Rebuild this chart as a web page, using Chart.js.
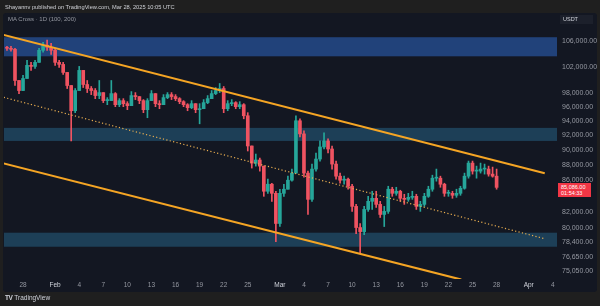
<!DOCTYPE html>
<html>
<head>
<meta charset="utf-8">
<script src="https://cdn.jsdelivr.net/npm/chart.js@4"></script>
<style>
  html, body { margin: 0; padding: 0; }
  body { width: 600px; height: 306px; background: #1f1f1f; position: relative; overflow: hidden; font-family: "Liberation Sans", Arial, sans-serif; }
  #panel { position: absolute; left: 3px; top: 13px; width: 594px; height: 279px; background: #131722; border-radius: 3px; }
  #chart { position: absolute; left: 0; top: 0; }
  .hdr { position: absolute; left: 5px; top: 3px; font-size: 5.7px; line-height: 8px; color: #cfd1d6; }
  .legend { position: absolute; left: 8px; top: 15px; font-size: 6px; line-height: 8px; color: #9598a1; }
  .unit { position: absolute; left: 560px; top: 15px; width: 33px; height: 9px; background: #1c202b; color: #d1d4dc; font-size: 5.5px; line-height: 9px; padding-left: 3px; box-sizing: border-box; }
  .badge { position: absolute; left: 558px; top: 183px; width: 33px; height: 14px; background: #f23645; color: #fff; font-size: 5.5px; line-height: 6.5px; padding: 0.5px 0 0 3px; box-sizing: border-box; }
  .footer { position: absolute; left: 5px; top: 294px; font-size: 6.5px; line-height: 8px; color: #d1d4dc; }
  .footer b { margin-right: 2px; letter-spacing: -0.5px; }
</style>
</head>
<body>
<div id="panel"></div>
<canvas id="chart" width="600" height="306"></canvas>
<div class="hdr">Shayannv published on TradingView.com, Mar 28, 2025 10:05 UTC</div>
<div class="legend">MA Cross · 1D (100, 200)</div>
<div class="unit">USDT</div>
<div class="badge">85,086.00<br>01:54:33</div>
<div class="footer"><b>TV</b>TradingView</div>
<script>
// x is days since Jan 28, prices in thousands of USDT
const tickDays = [0, 4, 7, 10, 13, 16, 19, 22, 25, 28, 32, 35, 38, 41, 44, 47, 50, 53, 56, 59, 63, 66];
const tickLabels = ["28", "Feb", "4", "7", "10", "13", "16", "19", "22", "25", "Mar", "4", "7", "10", "13", "16", "19", "22", "25", "28", "Apr", "4"];
const monthLabels = ["Feb", "Mar", "Apr"];
const priceTicks = [106000, 102000, 98000, 96000, 94000, 92000, 90000, 88000, 86000, 82000, 80000, 78400, 76650, 75050];

// 12h candles starting Jan 26
const firstDay = -2;
const firstOpen = 105.04;
const closes = [
  104.88, 104.72, 99.92, 98.42, 100.22, 102.22, 102.06, 102.68, 104.56, 105.36,
  105.04, 104.56, 102.68, 102.37, 101.14, 99.17, 95.48, 98.42, 101.45, 99.32,
  98.72, 98.42, 97.68, 98.12, 96.94, 96.94, 97.97, 96.35, 96.94, 96.50,
  96.21, 97.68, 97.53, 96.94, 95.63, 96.94, 97.97, 96.50, 96.35, 97.38,
  97.82, 97.53, 97.23, 96.79, 96.35, 95.92, 96.50, 95.63, 95.77, 96.65,
  97.23, 97.97, 98.42, 98.72, 95.77, 96.50, 96.65, 96.06, 96.35, 94.76,
  90.55, 88.25, 88.66, 87.85, 84.59, 85.49, 84.33, 80.59, 84.33, 84.85,
  86.01, 86.93, 94.05, 92.21, 86.93, 83.57, 87.46, 88.79, 90.42, 91.24,
  90.14, 88.12, 86.53, 86.01, 86.14, 85.23, 82.69, 80.10, 79.61, 82.31,
  83.32, 83.70, 82.94, 81.69, 82.07, 84.85, 84.33, 84.59, 83.70, 83.57,
  83.82, 83.95, 82.69, 82.94, 83.95, 84.85, 86.27, 86.27, 85.49, 84.33,
  84.33, 84.08, 84.33, 84.97, 86.53, 88.25, 87.19, 87.19, 87.46, 87.46,
  86.80, 86.53, 85.086
];
const highs = [
  105.20, 105.20, 104.88, 99.92, 100.68, 102.99, 102.68, 102.99, 104.88, 105.84,
  106.16, 105.68, 104.88, 102.99, 102.68, 101.14, 99.17, 98.72, 102.06, 101.45,
  99.92, 99.02, 98.72, 99.92, 98.12, 97.38, 99.92, 98.12, 97.23, 97.23,
  96.79, 98.27, 98.12, 97.53, 97.09, 97.23, 98.42, 97.97, 96.94, 97.82,
  98.12, 98.12, 97.82, 97.38, 96.94, 96.50, 96.94, 96.50, 96.50, 97.09,
  97.68, 98.42, 98.87, 99.47, 99.02, 96.94, 97.09, 96.79, 96.79, 96.50,
  95.20, 90.55, 89.46, 88.92, 87.85, 86.14, 85.62, 84.59, 84.85, 85.49,
  86.53, 87.46, 94.76, 94.33, 92.63, 87.19, 88.12, 89.60, 91.24, 92.35,
  91.52, 90.55, 88.52, 86.93, 86.53, 86.27, 85.49, 82.94, 80.59, 82.69,
  83.95, 84.59, 84.59, 83.32, 82.69, 85.23, 85.10, 85.10, 84.72, 84.21,
  84.33, 84.59, 84.21, 83.32, 84.33, 85.23, 86.66, 87.46, 86.53, 85.62,
  84.72, 84.59, 84.85, 85.23, 86.93, 88.52, 88.52, 87.85, 88.25, 88.12,
  87.85, 87.72, 87.46
];
const lows = [
  104.56, 104.41, 99.17, 97.97, 98.42, 100.22, 101.45, 101.75, 102.68, 104.25,
  104.56, 103.93, 102.22, 101.91, 100.83, 98.72, 91.24, 95.20, 98.42, 98.87,
  98.12, 97.82, 97.23, 97.23, 96.65, 96.35, 96.94, 96.06, 96.06, 96.06,
  95.63, 96.21, 97.09, 96.50, 95.20, 94.48, 96.94, 96.06, 95.77, 96.35,
  97.23, 97.09, 96.94, 96.50, 96.06, 95.48, 95.77, 95.20, 93.62, 95.77,
  96.50, 97.23, 97.82, 98.12, 95.20, 95.48, 96.21, 95.77, 95.77, 94.33,
  89.87, 87.59, 87.85, 87.19, 83.95, 84.33, 83.32, 78.42, 80.22, 83.95,
  84.85, 85.88, 86.93, 91.79, 86.40, 81.69, 83.32, 87.19, 88.52, 90.14,
  89.60, 87.46, 86.14, 85.62, 85.49, 84.85, 82.07, 79.37, 77.00, 79.25,
  82.07, 82.31, 82.56, 81.32, 80.22, 81.82, 83.95, 84.08, 83.32, 82.94,
  83.32, 83.57, 82.31, 82.07, 82.69, 83.82, 84.59, 85.88, 85.10, 83.95,
  83.95, 83.70, 83.82, 84.08, 84.85, 86.27, 86.80, 86.27, 86.93, 86.80,
  86.53, 86.40, 84.85
];

// supply / demand zones [low, high]
const zoneBounds = [[103.62, 106.64], [91.24, 93.05], [77.82, 79.48]];
// channel drawings [day, price]
const upperChannel = [[-2.4, 107.0], [65, 86.92]];
const lowerChannel = [[-2.4, 88.2], [54.6, 74.07]];
const midChannel = [[-2.4, 97.42], [65, 78.76]];

const UP = "#26a69a";
const DOWN = "#ef5361";
const zoneColors = ["#21427a", "#1d3f57", "#1d3f57"];

const wickData = [];
const bodyData = [];
const candleColors = [];
closes.forEach((c, i) => {
  const o = i === 0 ? firstOpen : closes[i - 1];
  const x = firstDay + i * 0.5;
  const hi = Math.max(highs[i], o, c);
  const lo = Math.min(lows[i], o, c);
  wickData.push({ x, y: [lo * 1000, hi * 1000] });
  bodyData.push({ x, y: [o * 1000, c * 1000] });
  candleColors.push(c >= o ? UP : DOWN);
});

const toPoints = (line) => line.map(([d, p]) => ({ x: d, y: p * 1000 }));

const zonePlugin = {
  id: "zones",
  beforeDatasetsDraw(chart) {
    const { ctx, chartArea, scales } = chart;
    ctx.save();
    zoneBounds.forEach((z, i) => {
      const top = scales.y.getPixelForValue(z[1] * 1000);
      const bottom = scales.y.getPixelForValue(z[0] * 1000);
      ctx.fillStyle = zoneColors[i];
      ctx.fillRect(chartArea.left, top, chartArea.right - chartArea.left + 1, bottom - top);
    });
    ctx.restore();
  }
};

const fmtPrice = (v) => Number(v).toLocaleString("en-US", { minimumFractionDigits: 2, maximumFractionDigits: 2 });

new Chart(document.getElementById("chart").getContext("2d"), {
  type: "bar",
  data: {
    datasets: [
      {
        type: "line", data: toPoints(upperChannel), borderColor: "#f5a524", borderWidth: 2,
        pointRadius: 0, order: 0,
      },
      {
        type: "line", data: toPoints(lowerChannel), borderColor: "#f5a524", borderWidth: 2,
        pointRadius: 0, order: 0,
      },
      {
        type: "line", data: toPoints(midChannel), borderColor: "#e8ad50", borderWidth: 1.2,
        borderDash: [1.2, 2.3], pointRadius: 0, order: 0,
      },
      {
        data: bodyData, backgroundColor: candleColors, barThickness: 3,
        grouped: false, minBarLength: 1, order: 1,
      },
      {
        data: wickData, backgroundColor: candleColors, barThickness: 1,
        grouped: false, order: 2,
      },
    ],
  },
  options: {
    responsive: false,
    animation: false,
    devicePixelRatio: 1,
    layout: { padding: { left: 4, top: 14, right: 3, bottom: 14 } },
    plugins: { legend: { display: false }, tooltip: { enabled: false } },
    scales: {
      x: {
        type: "linear",
        min: -2.37,
        max: 66.4,
        offset: false,
        grid: { display: false, drawTicks: false },
        border: { display: false },
        afterBuildTicks: (s) => { s.ticks = tickDays.map((v) => ({ value: v })); },
        afterFit: (s) => { s.height = 13; },
        ticks: {
          autoSkip: false,
          maxRotation: 0,
          padding: 2,
          callback: (v) => tickLabels[tickDays.indexOf(v)],
          color: (c) => monthLabels.includes(tickLabels[c.index]) ? "#d1d4dc" : "#9598a1",
          font: { family: "Liberation Sans", size: 6.5 },
        },
      },
      y: {
        type: "logarithmic",
        position: "right",
        min: 74136,
        max: 110426,
        grid: { display: false, drawTicks: false },
        border: { display: false },
        afterBuildTicks: (s) => { s.ticks = priceTicks.map((v) => ({ value: v })); },
        afterFit: (s) => { s.width = 41; },
        ticks: {
          autoSkip: false,
          padding: 6,
          callback: (v) => fmtPrice(v),
          color: "#9598a1",
          font: { family: "Liberation Sans", size: 7 },
        },
      },
    },
  },
  plugins: [zonePlugin],
});
</script>
</body>
</html>
